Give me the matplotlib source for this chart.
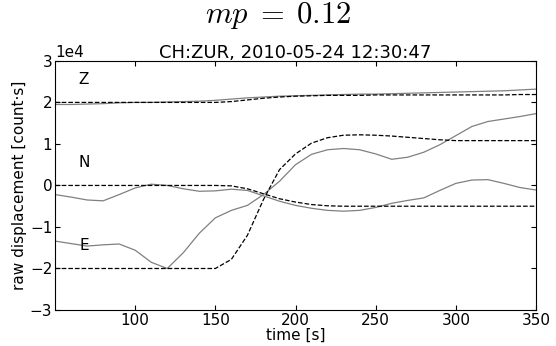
"""Displacement traces with model fit for station CH:ZUR."""

import numpy as np
import matplotlib
matplotlib.use('Agg')
import matplotlib.pyplot as plt

plt.rcParams['mathtext.fontset'] = 'cm'

SCALE = 1e4  # values below are in units of 1e4 count*s

time = [50, 60, 70, 80, 90, 100, 110, 120, 130, 140, 150, 160, 170, 180, 190, 200,
        210, 220, 230, 240, 250, 260, 270, 280, 290, 300, 310, 320, 330, 340, 350]

z_data = [1.95, 1.95, 1.96, 1.97, 1.99, 2.00, 2.00, 2.01, 2.02, 2.03, 2.05, 2.08, 2.11, 2.13, 2.15, 2.16,
          2.17, 2.18, 2.19, 2.20, 2.20, 2.21, 2.22, 2.23, 2.24, 2.25, 2.26, 2.27, 2.28, 2.30, 2.32]
z_model = [2.00, 2.00, 2.00, 2.00, 2.00, 2.00, 2.00, 2.00, 2.00, 2.00, 2.00, 2.02, 2.06, 2.10, 2.13, 2.15,
           2.16, 2.17, 2.17, 2.17, 2.18, 2.18, 2.18, 2.18, 2.18, 2.18, 2.18, 2.18, 2.18, 2.19, 2.19]

n_data = [-0.22, -0.28, -0.35, -0.37, -0.22, -0.06, 0.03, 0.00, -0.08, -0.14, -0.13, -0.09, -0.12, -0.25, -0.38, -0.48,
          -0.55, -0.60, -0.62, -0.60, -0.53, -0.43, -0.36, -0.30, -0.12, 0.05, 0.13, 0.14, 0.05, -0.05, -0.11]
n_model = [0.00, 0.00, 0.00, 0.00, 0.00, 0.00, 0.00, 0.00, 0.00, 0.00, 0.00, -0.01, -0.08, -0.20, -0.32, -0.40,
           -0.46, -0.49, -0.50, -0.50, -0.50, -0.50, -0.50, -0.50, -0.50, -0.50, -0.50, -0.50, -0.50, -0.50, -0.50]

e_data = [-1.34, -1.40, -1.46, -1.43, -1.41, -1.56, -1.85, -2.00, -1.62, -1.15, -0.78, -0.60, -0.48, -0.22, 0.10, 0.50,
          0.75, 0.86, 0.89, 0.86, 0.76, 0.63, 0.68, 0.80, 0.98, 1.20, 1.42, 1.54, 1.60, 1.66, 1.73]
e_model = [-2.00, -2.00, -2.00, -2.00, -2.00, -2.00, -2.00, -2.00, -2.00, -2.00, -2.00, -1.78, -1.20, -0.34, 0.38, 0.76,
           1.02, 1.15, 1.21, 1.22, 1.21, 1.19, 1.16, 1.13, 1.10, 1.08, 1.08, 1.08, 1.08, 1.08, 1.08]

labels = ['Z', 'N', 'E']
label_x = 68
label_y = [2.55, 0.55, -1.45]

fig = plt.figure(figsize=(5.56, 3.46), dpi=100)
ax = fig.add_axes([0.099, 0.104, 0.865, 0.72])

t = np.array(time)
for data, model in [(z_data, z_model), (n_data, n_model), (e_data, e_model)]:
    ax.plot(t, np.array(data) * SCALE, color='#808080', lw=0.9)
    ax.plot(t, np.array(model) * SCALE, color='black', lw=0.9, ls='--')

for lab, ly in zip(labels, label_y):
    ax.text(label_x, ly * SCALE, lab, fontsize=11, ha='center', va='center')

ax.set_xlim(50, 350)
ax.set_ylim(-3 * SCALE, 3 * SCALE)
ax.set_xticks([100, 150, 200, 250, 300, 350])
ax.ticklabel_format(axis='y', style='sci', scilimits=(0, 0))
ax.tick_params(direction='in', top=True, right=True, labelsize=11, pad=2)
ax.yaxis.get_offset_text().set_fontsize(11)
ax.set_xlabel('time [s]', fontsize=11, labelpad=0)
ax.set_ylabel('raw displacement [count·s]', fontsize=11, labelpad=2)
ax.set_title('CH:ZUR, 2010-05-24 12:30:47', fontsize=13, pad=2)
fig.suptitle(r'$mp \;=\; 0.12$', fontsize=22, y=1.0, va='top')

fig.savefig('out.png', dpi=100)
